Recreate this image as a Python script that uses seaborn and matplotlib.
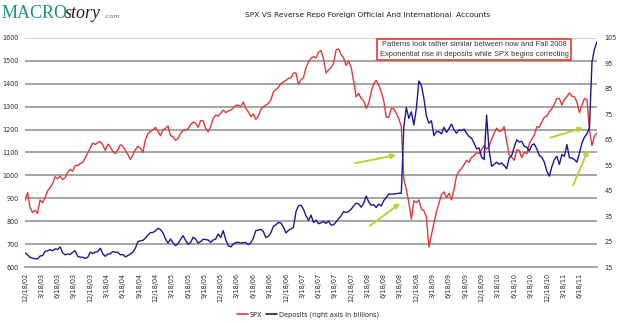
import numpy as np
import pandas as pd
import matplotlib
matplotlib.use("Agg")
import matplotlib.pyplot as plt
from matplotlib.lines import Line2D
import seaborn as sns

spx = [
    889, 925, 860, 838, 848, 834, 893, 881, 903, 932,
    946, 965, 994, 985, 997, 982, 990, 1014, 1026, 1018,
    1043, 1043, 1052, 1057, 1076, 1098, 1119, 1141, 1135, 1144,
    1147, 1134, 1109, 1137, 1124, 1105, 1095, 1112, 1134, 1127,
    1109, 1091, 1069, 1091, 1112, 1127, 1119, 1101, 1156, 1182,
    1192, 1199, 1210, 1192, 1173, 1199, 1205, 1216,
    1173, 1170, 1153, 1161, 1184, 1196, 1199, 1203, 1222, 1233,
    1228, 1210, 1239, 1239, 1206, 1190, 1213, 1248, 1264, 1259,
    1271, 1285, 1274, 1281, 1285, 1294, 1306, 1306, 1300, 1320,
    1293, 1278, 1257, 1268, 1245, 1259, 1288, 1300, 1307, 1314,
    1329, 1365, 1375, 1384, 1401, 1408, 1415, 1423, 1427, 1447,
    1447, 1398, 1418, 1427, 1470, 1495, 1511, 1519,
    1513, 1538, 1545, 1509, 1447, 1461, 1470, 1490, 1548, 1552,
    1528, 1513, 1480, 1499, 1473, 1412, 1343, 1358, 1336, 1326,
    1293, 1314, 1365, 1401, 1415, 1394, 1365, 1326, 1254, 1254,
    1293, 1291, 1271, 1248, 1213, 982, 939, 881, 809, 889,
    881, 893, 853, 846, 817, 687, 740, 792, 841, 878,
    917, 928, 903, 922, 893, 939, 997, 1018,
    1029, 1047, 1066, 1057, 1079, 1086, 1101, 1095, 1112, 1131,
    1115, 1127, 1158, 1184, 1206, 1192, 1196, 1213, 1148, 1089,
    1079, 1066, 1112, 1109, 1078, 1101, 1095, 1138, 1158, 1177,
    1213, 1210, 1233, 1254, 1259, 1278, 1291, 1311, 1336, 1336,
    1307, 1332, 1343, 1360, 1346, 1343, 1321, 1274, 1307, 1336,
    1332, 1199, 1130, 1173, 1184,
]
deposits = [
    20.6, 19.8, 18.8, 18.5, 18.2, 18.2, 19.3, 19.5, 21.1, 21.4,
    21.8, 21.4, 22.1, 21.9, 22.9, 20.6, 19.8, 20.1, 19.9, 20.8,
    21.4, 19.2, 18.9, 18.8, 18.4, 18.8, 20.8, 20.3, 20.8, 21.1,
    22.4, 20.2, 19.2, 20.1, 20.2, 21.1, 20.8, 20.8, 19.8, 19.9,
    19.0, 19.5, 20.1, 20.8, 22.4, 25.0, 25.3, 25.5, 26.3, 27.6,
    28.5, 28.6, 29.2, 30.2, 29.7, 28.4, 26.0, 24.4,
    26.0, 24.5, 23.4, 24.2, 25.8, 27.3, 25.5, 24.0, 24.6, 26.7,
    26.0, 24.4, 25.0, 25.9, 25.8, 25.6, 24.7, 25.6, 26.0, 28.0,
    26.6, 29.3, 25.8, 23.4, 22.9, 24.0, 24.6, 24.7, 24.4, 24.6,
    24.6, 23.8, 24.5, 26.3, 29.3, 29.5, 29.8, 29.0, 26.6, 27.1,
    28.4, 31.0, 31.6, 32.5, 32.3, 30.7, 28.4, 29.4, 29.9, 30.6,
    36.7, 39.0, 39.3, 37.7, 35.1, 33.3, 35.4, 32.5,
    33.4, 32.0, 32.4, 32.9, 32.1, 33.1, 31.5, 31.6, 32.7, 34.0,
    35.1, 36.8, 36.4, 36.8, 37.7, 39.0, 40.1, 39.8, 38.5, 40.1,
    42.9, 40.6, 39.3, 39.5, 38.4, 39.7, 39.0, 41.1, 42.3, 43.7,
    43.6, 43.7, 43.8, 44.0, 44.0, 70.2, 77.7, 73.4, 76.0, 70.8,
    77.3, 88.1, 86.4, 81.2, 74.4, 71.5, 72.5, 66.6, 68.2, 68.2,
    67.3, 69.9, 67.9, 69.4, 71.2, 68.9, 67.6, 68.9,
    68.6, 69.2, 67.6, 66.3, 65.6, 63.7, 61.4, 61.8, 58.2, 57.2,
    74.7, 60.8, 54.6, 55.3, 56.2, 55.4, 55.9, 54.9, 53.6, 57.9,
    58.8, 62.1, 65.0, 64.1, 64.4, 62.4, 62.1, 60.6, 62.9, 63.4,
    61.4, 58.8, 58.2, 56.2, 52.7, 50.7, 54.4, 57.2, 58.5, 55.3,
    59.2, 58.5, 63.1, 57.9, 57.9, 57.2, 56.2, 59.8, 63.7, 66.0,
    67.3, 69.9, 95.5, 100.7, 103.5,
]
tick_labels = [
    "12/18/02", "3/18/03", "6/18/03", "9/18/03", "12/18/03", "3/18/04", "6/18/04",
    "9/18/04", "12/18/04", "3/18/05", "6/18/05", "9/18/05", "12/18/05", "3/18/06",
    "6/18/06", "9/18/06", "12/18/06", "3/18/07", "6/18/07", "9/18/07", "12/18/07",
    "3/18/08", "6/18/08", "9/18/08", "12/18/08", "3/18/09", "6/18/09", "9/18/09",
    "12/18/09", "3/18/10", "6/18/10", "9/18/10", "12/18/10", "3/18/11", "6/18/11",
]
left_ticks = list(range(600, 1700, 100))
right_ticks = list(range(15, 115, 10))
weeks_per_sample = 2
weeks_per_label = 13

title = "SPX VS Reverse Repo Foreign Official And International  Accounts"
note = ("Patterns look rather similar between now and Fall 2008\n"
        "Exponential rise in deposits while SPX begins correcting")

df = pd.DataFrame({
    "week": np.arange(len(spx)) * weeks_per_sample,
    "SPX": spx,
    "Deposits": deposits,
})

sns.set_style("white")
plt.rcParams["font.family"] = ["DejaVu Sans"]

RED = "#e0393a"
BLUE = "#191995"
GRID = "#9e9e9e"
TXT = "#2b2b2b"
ARROW = "#b4d335"

fig = plt.figure(figsize=(6.2, 3.23), dpi=100)
ax = fig.add_axes([25 / 620, 56 / 323, 572 / 620, 229 / 323])
ax2 = ax.twinx()

sns.lineplot(data=df, x="week", y="SPX", ax=ax, color=RED, lw=1.0)
sns.lineplot(data=df, x="week", y="Deposits", ax=ax2, color=BLUE, lw=1.0)

ax.set_xlim(0, df["week"].iloc[-1])
ax.set_ylim(left_ticks[0], left_ticks[-1])
ax2.set_ylim(right_ticks[0], right_ticks[-1])

for t in left_ticks[1:-1]:
    ax.axhline(t, color=GRID, lw=1.3, zorder=0)
ax.axhline(left_ticks[-1], color="#d0d0d0", lw=1.3, zorder=0)

for a in (ax, ax2):
    for s in a.spines.values():
        s.set_visible(False)
    a.set_xlabel("")
    a.set_ylabel("")
ax.spines["bottom"].set_visible(True)
ax.spines["bottom"].set_color(GRID)
ax.spines["bottom"].set_linewidth(1.3)

ax.set_yticks(left_ticks)
ax.set_yticklabels([str(t) for t in left_ticks], fontsize=4.7, color=TXT)
ax.tick_params(axis="y", length=0, pad=4.5)

ax.set_xticks(np.arange(len(tick_labels)) * weeks_per_label)
ax.set_xticklabels(tick_labels, rotation=90, fontsize=4.7, color=TXT)
ax.tick_params(axis="x", length=2.5, width=0.6, color="#888888", direction="out", pad=1.5)

ax2.set_yticks(right_ticks)
ax2.set_yticklabels([str(t) for t in right_ticks], fontsize=4.7, color=TXT)
ax2.tick_params(axis="y", length=0, pad=5.5)

# green arrows (data coordinates: week, SPX level)
arrows = [((263, 1053), (296, 1089)),
          ((275, 780), (299, 878)),
          ((419, 1165), (445, 1208)),
          ((437, 958), (449, 1111))]
for (x0, y0), (x1, y1) in arrows:
    ax2.annotate("", xy=(x1, y1), xytext=(x0, y0),
                 xycoords=ax.transData, textcoords=ax.transData,
                 arrowprops=dict(arrowstyle="-|>", color=ARROW, lw=1.4,
                                 mutation_scale=7, shrinkA=0, shrinkB=0))

# annotation box
fig.text(474 / 620, 1 - 49.5 / 323, note, ha="center", va="center",
         fontsize=5.45, color="#333333", family=["Liberation Sans"], linespacing=1.45,
         bbox=dict(boxstyle="square,pad=0.3", fc="white", ec="#e9483f", lw=1.3))

# title
fig.text(368 / 620, 1 - 15 / 323, title, ha="center", va="center",
         fontsize=5.4, color="#1e1e1e")

# logo
fig.text(2 / 620, 1 - 18 / 323, "MACRO", family=["Liberation Serif"], fontsize=13,
         color="#1f9383", va="baseline", ha="left")
fig.text(65 / 620, 1 - 18 / 323, "story", family=["Liberation Serif"], fontsize=13,
         fontstyle="italic", color="#222222", va="baseline", ha="left")
fig.text(104 / 620, 1 - 18 / 323, ".com", fontsize=4.5, color="#666666",
         va="baseline", ha="left")

# legend
handles = [Line2D([], [], color=RED, lw=1.2), Line2D([], [], color=BLUE, lw=1.2)]
fig.legend(handles, ["SPX", "Deposits (right axis in billions)"],
           loc="center", bbox_to_anchor=(308 / 620, 1 - 315 / 323), ncol=2,
           frameon=False, fontsize=4.7, handlelength=1.6, handletextpad=0.3,
           columnspacing=0.6, borderpad=0)

fig.savefig("out.png", dpi=100)
